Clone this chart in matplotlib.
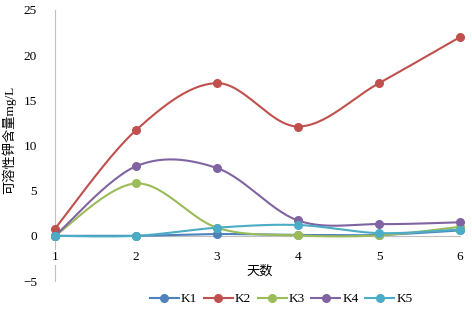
import numpy as np
import matplotlib
matplotlib.use('Agg')
import matplotlib.pyplot as plt

plt.rcParams['font.family'] = ['Liberation Serif', 'Noto Sans CJK SC']

days = [1, 2, 3, 4, 5, 6]
k1 = [0, 0, 0.2, 0.1, 0.1, 0.6]
k2 = [0.8, 11.7, 16.9, 12.1, 16.9, 22.0]
k3 = [0, 5.8, 0.9, 0.05, 0.05, 1.0]
k4 = [0, 7.7, 7.5, 1.7, 1.3, 1.5]
k5 = [0, 0, 0.9, 1.2, 0.3, 0.7]
names = ['K1', 'K2', 'K3', 'K4', 'K5']
colors = ['#4F81BD', '#C0504D', '#9BBB59', '#8064A2', '#4BACC6']
yticks = [-5, 0, 5, 10, 15, 20, 25]


def smooth(x, y, n=30):
    # Catmull-Rom style smoothing like Excel's smoothed line
    x = np.asarray(x, float)
    y = np.asarray(y, float)
    px = np.concatenate([[x[0]], x, [x[-1]]])
    py = np.concatenate([[y[0]], y, [y[-1]]])
    xs, ys = [], []
    t = np.linspace(0, 1, n)
    for i in range(1, len(px) - 2):
        p0 = np.array([px[i], py[i]])
        p3 = np.array([px[i + 1], py[i + 1]])
        c1 = p0 + (np.array([px[i + 1], py[i + 1]]) - np.array([px[i - 1], py[i - 1]])) / 6
        c2 = p3 - (np.array([px[i + 2], py[i + 2]]) - np.array([px[i], py[i]])) / 6
        b = ((1 - t) ** 3)[:, None] * p0 + (3 * (1 - t) ** 2 * t)[:, None] * c1 \
            + (3 * (1 - t) * t ** 2)[:, None] * c2 + (t ** 3)[:, None] * p3
        xs.extend(b[:, 0])
        ys.extend(b[:, 1])
    return xs, ys


fig = plt.figure(figsize=(4.72, 3.10), dpi=100)
ax = fig.add_axes([55 / 472, 29 / 310, 405 / 472, 271 / 310])

for name, vals, c in zip(names, [k1, k2, k3, k4, k5], colors):
    sx, sy = smooth(days, vals)
    ax.plot(sx, sy, color=c, lw=1.5, clip_on=False)
    ax.plot(days, vals, 'o', color=c, ms=5.5, clip_on=False)
    ax.plot([], [], '-o', color=c, lw=1.5, ms=5.5, label=name)

ax.set_xlim(1, 6)
ax.set_ylim(-5, 25)
ax.set_yticks(yticks)
ax.set_xticks(days)
for s in ['top', 'right']:
    ax.spines[s].set_visible(False)
ax.spines['left'].set_color('#BFBFBF')
ax.spines['left'].set_zorder(0)
ax.spines['bottom'].set_position(('data', 0))
ax.spines['bottom'].set_color('#BFBFBF')
ax.spines['bottom'].set_zorder(0)
ax.tick_params(axis='both', length=0, labelsize=9.5)
ax.tick_params(axis='y', pad=13)
ax.tick_params(axis='x', pad=11)
for lab in ax.get_xticklabels():
    lab.set_bbox(dict(facecolor='white', edgecolor='none', pad=1))
    lab.set_zorder(5)

fig.text(260 / 472, 1 - 271 / 310, '天数', ha='center', va='center', fontsize=9.5)
fig.text(9 / 472, 1 - 140 / 310, '可溶性钾含量mg/L', rotation=90, ha='center', va='center', fontsize=9.5)

fig.legend(loc='center', bbox_to_anchor=(281 / 472, 1 - 299 / 310), ncol=5, frameon=False,
           fontsize=9.5, handlelength=2.2, columnspacing=0.5, handletextpad=0.15, borderaxespad=0)

fig.savefig('out.png', dpi=100)
